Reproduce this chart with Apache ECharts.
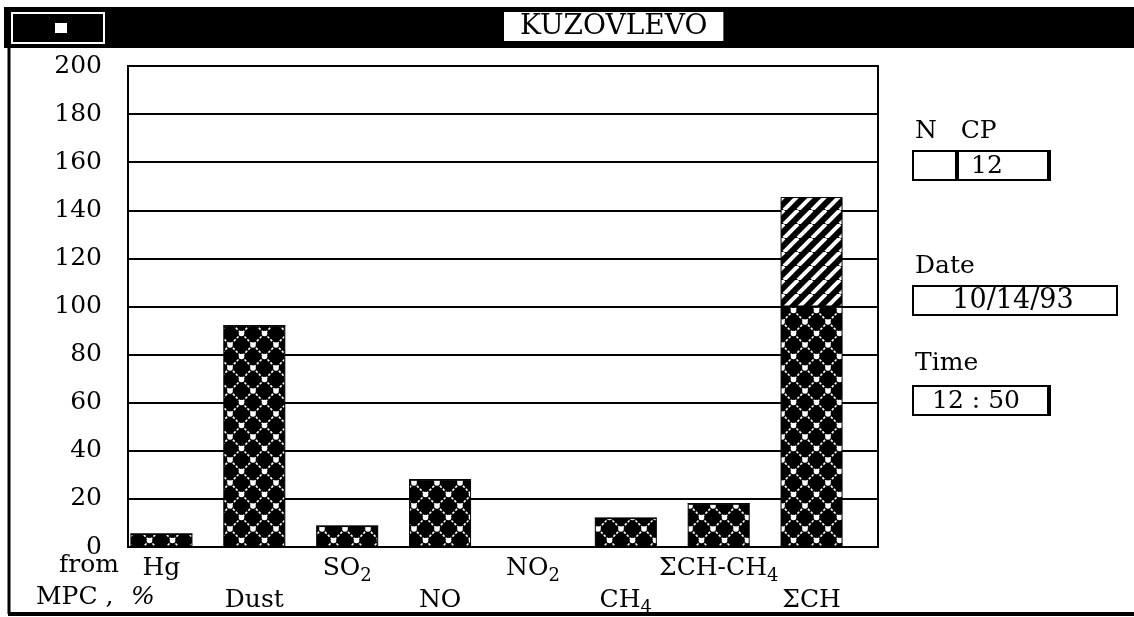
<!DOCTYPE html>
<html>
<head>
<meta charset="utf-8">
<script src="https://cdn.jsdelivr.net/npm/echarts@6/dist/echarts.min.js"></script>
<style>
  html, body { margin: 0; padding: 0; background: #fff; }
  #chart { width: 1134px; height: 617px; }
</style>
</head>
<body>
<div id="chart"></div>
<script>
// pollutants, share of MPC (%)
const categories = ['Hg', 'Dust', 'SO2', 'NO', 'NO2', 'CH4', 'ΣCH-CH4', 'ΣCH']
const values = [5.4, 92, 8.7, 28, 0, 12, 18, 145.5]
const mpcLimit = 100
const yTicks = [0, 200, 20]

const FONT = 'DejaVu Serif'

// crosshatch tile: black with white dotted diamond lattice
function latticeTile() {
  const c = document.createElement('canvas')
  c.width = 23
  c.height = 23
  const g = c.getContext('2d')
  g.fillStyle = '#000'
  g.fillRect(0, 0, 23, 23)
  g.strokeStyle = '#fff'
  g.lineWidth = 1.6
  g.setLineDash([2.5, 1.6])
  g.beginPath()
  g.moveTo(0, 0); g.lineTo(23, 23)
  g.moveTo(23, 0); g.lineTo(0, 23)
  g.stroke()
  g.fillStyle = '#fff'
  ;[[0, 0], [23, 0], [0, 23], [23, 23], [11.5, 11.5]].forEach(p => {
    g.beginPath()
    g.arc(p[0], p[1], 2.8, 0, Math.PI * 2)
    g.fill()
  })
  return c
}

// diagonal stripes tile for the part above MPC
function stripeTile() {
  const c = document.createElement('canvas')
  c.width = 14
  c.height = 14
  const g = c.getContext('2d')
  g.fillStyle = '#000'
  g.fillRect(0, 0, 14, 14)
  g.strokeStyle = '#fff'
  g.lineWidth = 4
  ;[-14, 0, 14].forEach(d => {
    g.beginPath()
    g.moveTo(d, 14)
    g.lineTo(d + 14, 0)
    g.stroke()
  })
  return c
}

const below = values.map(v => Math.min(v, mpcLimit))
const above = values.map(v => Math.max(v - mpcLimit, 0))

function fmtCat(v, i) {
  const t = v.replace(/(\d)/g, '{s|$1}')
  return i % 2 === 0 ? t + '\n ' : ' \n' + t
}

function txt(x, y, text, size, align, italic) {
  return {
    type: 'text',
    style: {
      x: x, y: y, text: text, align: align || 'left', verticalAlign: 'middle',
      font: (italic ? 'italic ' : '') + size + 'px "' + FONT + '"', fill: '#000'
    }
  }
}

const chart = echarts.init(document.getElementById('chart'))

chart.setOption({
  backgroundColor: '#fff',
  animation: false,
  title: {
    text: 'KUZOVLEVO',
    left: 504,
    top: 12,
    backgroundColor: '#fff',
    padding: [0, 16, 0, 16],
    textStyle: { fontFamily: FONT, fontWeight: 'normal', fontSize: 28, color: '#000', lineHeight: 29 }
  },
  grid: [
    // frame + gridlines
    { left: 128, right: 256, top: 66, bottom: 70, show: true, borderColor: '#000', borderWidth: 2, backgroundColor: 'transparent' },
    // bars
    { left: 115, right: 276, top: 66, bottom: 70 }
  ],
  xAxis: [
    { gridIndex: 0, type: 'value', show: false, min: 0, max: 1 },
    {
      gridIndex: 1,
      type: 'category',
      data: categories,
      axisLine: { show: false },
      axisTick: { show: false },
      axisLabel: {
        interval: 0,
        margin: 5,
        color: '#000',
        fontFamily: FONT,
        fontSize: 25,
        lineHeight: 32,
        formatter: fmtCat,
        rich: {
          s: { fontFamily: FONT, fontSize: 18, color: '#000', lineHeight: 32, padding: [16, 0, 0, 0] }
        }
      }
    }
  ],
  yAxis: [
    {
      gridIndex: 0,
      type: 'value',
      min: yTicks[0],
      max: yTicks[1],
      interval: yTicks[2],
      axisLine: { show: false },
      axisTick: { show: false },
      axisLabel: { margin: 26, color: '#000', fontFamily: FONT, fontSize: 25 },
      splitLine: { lineStyle: { color: '#000', width: 2 } }
    },
    { gridIndex: 1, type: 'value', min: yTicks[0], max: yTicks[1], show: false, splitLine: { show: false } }
  ],
  series: [
    {
      name: 'below MPC',
      type: 'bar',
      xAxisIndex: 1,
      yAxisIndex: 1,
      stack: 'mpc',
      barWidth: 62,
      itemStyle: { color: { image: latticeTile(), repeat: 'repeat' }, borderColor: '#000', borderWidth: 1 },
      data: below
    },
    {
      name: 'above MPC',
      type: 'bar',
      xAxisIndex: 1,
      yAxisIndex: 1,
      stack: 'mpc',
      barWidth: 62,
      itemStyle: { color: { image: stripeTile(), repeat: 'repeat' }, borderColor: '#000', borderWidth: 1 },
      data: above
    }
  ],
  graphic: [
    // header bar
    { type: 'rect', z: -1, shape: { x: 4, y: 7, width: 1130, height: 41 }, style: { fill: '#000' } },
    { type: 'rect', shape: { x: 12, y: 13, width: 92, height: 30 }, style: { fill: 'none', stroke: '#fff', lineWidth: 2 } },
    { type: 'rect', shape: { x: 55, y: 23, width: 12, height: 10 }, style: { fill: '#fff' } },
    // window borders
    { type: 'line', shape: { x1: 9, y1: 48, x2: 9, y2: 614 }, style: { stroke: '#000', lineWidth: 3 } },
    { type: 'line', shape: { x1: 8, y1: 614, x2: 1134, y2: 614 }, style: { stroke: '#000', lineWidth: 4 } },
    // axis caption
    txt(119, 565, 'from', 25, 'right'),
    txt(36, 597, 'MPC ,', 25),
    txt(131, 597, '%', 25, 'left', true),
    // side panel
    txt(915, 131, 'N   CP', 25),
    { type: 'rect', shape: { x: 913, y: 151, width: 137, height: 29 }, style: { fill: '#fff', stroke: '#000', lineWidth: 2 } },
    { type: 'line', shape: { x1: 957, y1: 151, x2: 957, y2: 180 }, style: { stroke: '#000', lineWidth: 4 } },
    { type: 'line', shape: { x1: 1049, y1: 150, x2: 1049, y2: 181 }, style: { stroke: '#000', lineWidth: 4 } },
    txt(987, 166, '12', 25, 'center'),

    txt(915, 266, 'Date', 25),
    { type: 'rect', shape: { x: 913, y: 286, width: 204, height: 29 }, style: { fill: '#fff', stroke: '#000', lineWidth: 2 } },
    txt(1013, 301, '10/14/93', 27, 'center'),

    txt(915, 363, 'Time', 25),
    { type: 'rect', shape: { x: 913, y: 386, width: 137, height: 29 }, style: { fill: '#fff', stroke: '#000', lineWidth: 2 } },
    { type: 'line', shape: { x1: 1049, y1: 385, x2: 1049, y2: 416 }, style: { stroke: '#000', lineWidth: 4 } },
    txt(976, 401, '12 : 50', 25, 'center')
  ]
})
</script>
</body>
</html>
